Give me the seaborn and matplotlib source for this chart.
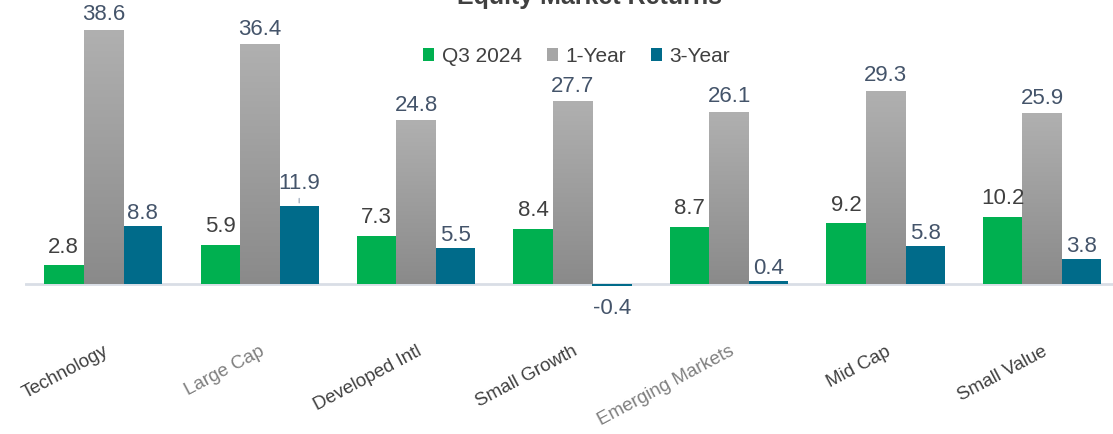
import matplotlib.pyplot as plt
import numpy as np
import pandas as pd
import seaborn as sns
from matplotlib.colors import LinearSegmentedColormap
from matplotlib.patches import Patch

# Données du graphique
categories = ["Technology", "Large Cap", "Developed Intl", "Small Growth",
              "Emerging Markets", "Mid Cap", "Small Value"]
series = ["Q3 2024", "1-Year", "3-Year"]
q3_2024 = [2.8, 5.9, 7.3, 8.4, 8.7, 9.2, 10.2]
one_year = [38.6, 36.4, 24.8, 27.7, 26.1, 29.3, 25.9]
three_year = [8.8, 11.9, 5.5, -0.4, 0.4, 5.8, 3.8]
faded_labels = ["Large Cap", "Emerging Markets"]

colors = {"Q3 2024": "#00B050", "1-Year": "#A6A6A6", "3-Year": "#006B8A"}
label_colors = {"Q3 2024": "#404040", "1-Year": "#44546A", "3-Year": "#44546A"}
label_offsets = {"Q3 2024": 13, "1-Year": 11, "3-Year": 9}

df = pd.DataFrame({
    "category": categories * 3,
    "series": np.repeat(series, len(categories)),
    "value": q3_2024 + one_year + three_year,
})

sns.set_theme(style="white")
plt.rcParams['font.family'] = ['Liberation Sans', 'DejaVu Sans']

fig = plt.figure(figsize=(11.13, 4.34), dpi=100)
ax = fig.add_axes([0.0225, 0.3157, 0.984, 0.667])

sns.barplot(data=df, x="category", y="value", hue="series", order=categories,
            hue_order=series, palette=colors, width=0.757, gap=0,
            saturation=1, linewidth=0, legend=False, ax=ax, zorder=2)

# Dégradé gris pour les barres 1-Year
gray_cmap = LinearSegmentedColormap.from_list("grays", ["#8A8A8A", "#B0B0B0"])
grad = np.linspace(0, 1, 256).reshape(-1, 1)
for bar in ax.containers[1]:
    x, y = bar.get_x(), bar.get_y()
    w, h = bar.get_width(), bar.get_height()
    ax.imshow(grad, extent=[x, x + w, y, y + h], origin="lower", cmap=gray_cmap,
              aspect="auto", zorder=2.5)
    bar.set_facecolor("none")
ax.set_xlim(-0.5, len(categories) - 0.5)
ax.set_ylim(-2, 42)

# Étiquettes de valeurs
for name, container in zip(series, ax.containers):
    for cat, bar in zip(categories, container):
        xc = bar.get_x() + bar.get_width() / 2
        value = df[(df.series == name) & (df.category == cat)].value.iloc[0]
        if value < 0:
            ax.annotate(f"{value:.1f}", xy=(xc, value), xytext=(0, -16),
                        textcoords="offset points", ha="center", va="center",
                        fontsize=16, color=label_colors[name])
        elif name == "3-Year" and cat == "Large Cap":
            ax.annotate(f"{value:.1f}", xy=(xc, value), xytext=(0, 16),
                        textcoords="offset points", ha="center", va="center",
                        fontsize=16, color=label_colors[name],
                        arrowprops=dict(arrowstyle="-", color="#A6B3C2", lw=1,
                                        shrinkA=1, shrinkB=2))
        else:
            ax.annotate(f"{value:.1f}", xy=(xc, value), xytext=(0, label_offsets[name]),
                        textcoords="offset points", ha="center", va="center",
                        fontsize=16, color=label_colors[name])

ax.axhline(0, color="#D9DEE6", lw=2, zorder=1)

for s in ax.spines.values():
    s.set_visible(False)
ax.set_yticks([])
ax.set_xlabel("")
ax.set_ylabel("")
ax.tick_params(axis="x", length=0, pad=33, labelsize=13.5, labelcolor="#404040")
for lab in ax.get_xticklabels():
    lab.set_rotation(28)
    lab.set_ha("right")
    lab.set_rotation_mode("anchor")
    if lab.get_text() in faded_labels:
        lab.set_color("#7F7F7F")
        lab.set_fontweight("light")

handles = [Patch(facecolor=colors[s], edgecolor="none") for s in series]
ax.legend(handles, series, loc="center", bbox_to_anchor=(0.518, 0.87),
          bbox_transform=fig.transFigure, ncol=3, frameon=False, fontsize=15,
          handlelength=0.55, handleheight=0.55, handletextpad=0.35,
          columnspacing=1.2, labelcolor="#404040")

fig.text(0.53, 0.99, "Equity Market Returns", ha="center", va="baseline",
         fontsize=18, fontweight="bold", color="#404040")

fig.savefig("out.png", dpi=100)
